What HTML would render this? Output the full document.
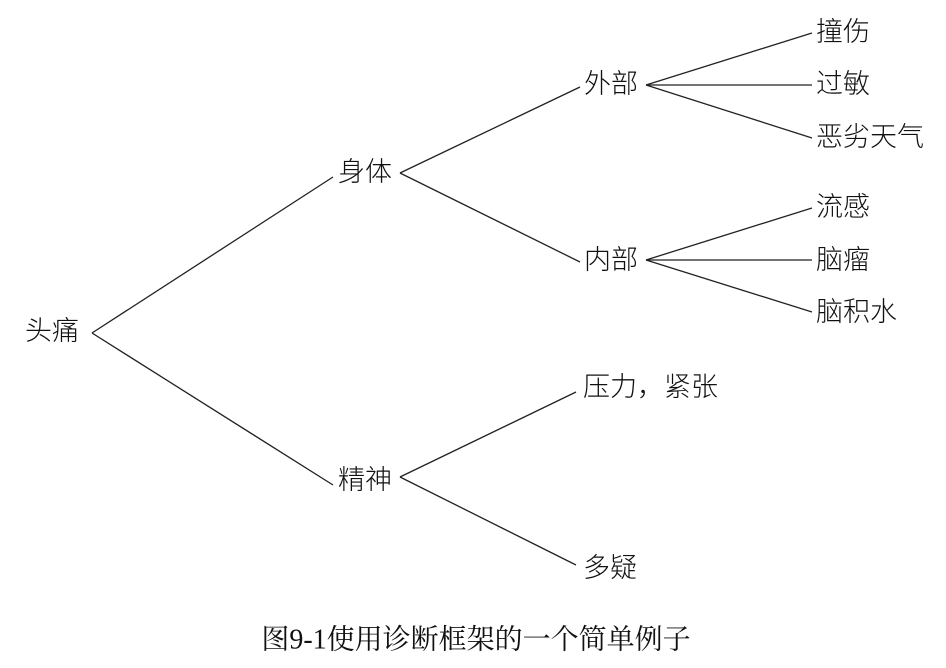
<!DOCTYPE html>
<html><head><meta charset="utf-8"><style>
html,body{margin:0;padding:0;background:#fff;}
svg{display:block}
text{font-family:"Liberation Sans","Noto Sans CJK SC",sans-serif;font-size:27px;font-weight:300;fill:#111;dominant-baseline:central}
.cap{font-family:"Liberation Serif","Noto Serif CJK SC",serif;font-size:28px;font-weight:400}
</style></head><body>
<svg width="946" height="668" viewBox="0 0 946 668" xmlns="http://www.w3.org/2000/svg">
<g stroke="#222" stroke-width="1.3" fill="none">
<line x1="92" y1="333" x2="333" y2="177"/>
<line x1="92" y1="333" x2="333" y2="485"/>
<line x1="400" y1="173" x2="580" y2="87"/>
<line x1="400" y1="173" x2="580" y2="262"/>
<line x1="646" y1="85" x2="812" y2="33"/>
<line x1="646" y1="85" x2="812" y2="85"/>
<line x1="646" y1="85" x2="812" y2="138"/>
<line x1="646" y1="260" x2="812" y2="208"/>
<line x1="646" y1="260" x2="812" y2="260"/>
<line x1="646" y1="260" x2="812" y2="312"/>
<line x1="400" y1="477" x2="576" y2="392"/>
<line x1="400" y1="477" x2="576" y2="565"/>
</g>
<text x="25" y="331">头痛</text>
<text x="338" y="172">身体</text>
<text x="338" y="480">精神</text>
<text x="584" y="84">外部</text>
<text x="584" y="260">内部</text>
<text x="816" y="32">撞伤</text>
<text x="816" y="84">过敏</text>
<text x="816" y="137">恶劣天气</text>
<text x="816" y="207">流感</text>
<text x="816" y="260">脑瘤</text>
<text x="816" y="312">脑积水</text>
<text x="583" y="387">压力，紧张</text>
<text x="583" y="568">多疑</text>
<text class="cap" x="476" y="640" text-anchor="middle">图9-1使用诊断框架的一个简单例子</text>
</svg>
</body></html>
